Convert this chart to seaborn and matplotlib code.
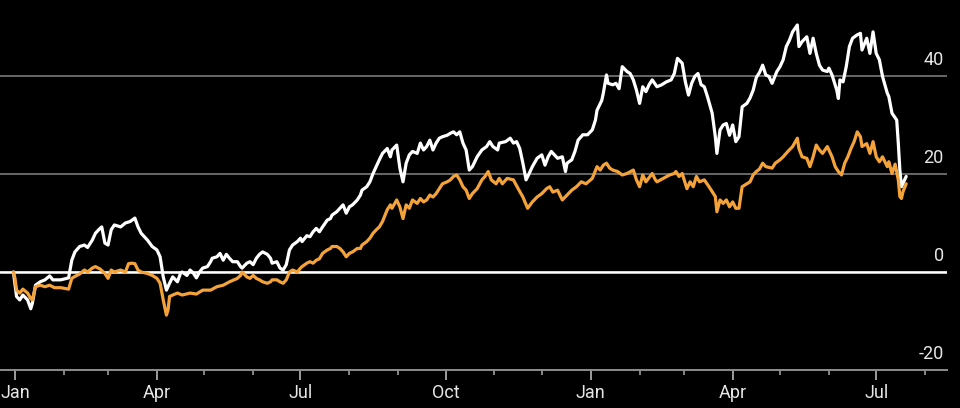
import pandas as pd
import seaborn as sns
import matplotlib.pyplot as plt
import matplotlib.dates as mdates
from matplotlib.transforms import ScaledTranslation

# days since 2018-01-01 and % change
white_days = [-1, 1, 3, 5, 8, 10, 11, 13, 16, 19, 22, 24, 29, 34, 36, 38, 41, 44, 46, 49, 51, 53, 55, 57, 59,
              61, 63, 67, 70, 73, 76, 78, 80, 84, 87, 90, 92, 94, 96, 98, 100, 103, 105, 106, 109, 111, 113,
              115, 117, 119, 122, 124, 125, 128, 130, 132, 134, 136, 138, 141, 143, 144, 147, 149, 151, 153,
              155, 157, 160, 162, 163, 166, 168, 170, 172, 174, 176, 179, 181, 182, 185, 187, 189, 191, 193,
              195, 198, 200, 201, 204, 206, 208, 210, 212, 214, 217, 219, 220, 223, 225, 227, 229, 231, 233,
              236, 238, 239, 242, 244, 246, 248, 250, 252, 255, 257, 259, 261, 263, 265, 267, 269, 271, 274,
              276, 278, 280, 282, 284, 286, 288, 290, 293, 296, 299, 301, 303, 306, 307, 311, 314, 316, 318,
              320, 322, 324, 326, 328, 331, 334, 336, 338, 340, 342, 344, 347, 349, 350, 353, 355, 357, 360,
              363, 366, 368, 369, 372, 373, 375, 376, 379, 381, 383, 385, 388, 390, 392, 394, 396, 398, 400,
              402, 404, 407, 410, 413, 416, 418, 420, 423, 425, 427, 429, 431, 433, 435, 437, 439, 442, 444,
              445, 447, 449, 451, 453, 455, 457, 459, 461, 464, 466, 468, 470, 472, 474, 476, 478, 480, 483,
              485, 487, 489, 491, 493, 496, 497, 499, 502, 504, 506, 508, 510, 512, 515, 516, 518, 521, 522,
              523, 525, 527, 529, 531, 534, 536, 537, 540, 542, 544, 546, 548, 550, 553, 554, 556, 559, 560,
              561, 562, 564, 565]
white_vals = [0, -5, -5.7, -4.7, -5.7, -7.5, -6.4, -2.7, -2, -1.6, -0.8, -1.6, -1.6, -1.2, 2.4, 4.1, 5.2, 5.5,
              5, 6.5, 7.9, 8.6, 9.2, 5.9, 5.5, 8.6, 9.6, 9.2, 10, 10.3, 11, 9.2, 7.9, 6.5, 5.2, 4.5, 3.1, -1,
              -3.7, -2.3, -1, -2, -0.2, 0, -0.7, 0.4, -0.2, -1.2, 0, 0.8, 1.1, 2.1, 2.8, 3.1, 3.8, 2.4, 3.6,
              2.8, 2.1, 2.1, 1.1, 0.8, 1.8, 2.1, 1.5, 2.8, 3.6, 4.1, 3.6, 2.8, 1.8, 2.1, 0.8, 0.4, 1.5, 4.5,
              5.5, 6.2, 6.9, 6.2, 7.4, 7.2, 8.2, 8.9, 8.2, 9.2, 10.6, 10.9, 11.6, 12.3, 13, 13.7, 12, 13.3,
              13.7, 14.7, 15.7, 16.7, 17.4, 18.4, 20.1, 21.5, 22.9, 24.2, 25.2, 23.5, 24.9, 25.9, 21.2, 18.4,
              22.2, 23.9, 24.6, 24.2, 26.3, 24.9, 25.6, 26.9, 24.9, 26.3, 27.3, 27.6, 27.9, 28.3, 28.6, 28,
              28.6, 26.3, 24.9, 20.8, 21.5, 23.5, 24.9, 25.6, 26.6, 25.6, 24.9, 26.3, 26.6, 27.3, 26.3, 26.6,
              25.2, 22.2, 18.8, 20.1, 21.5, 23.2, 23.9, 21.8, 23.5, 24.6, 23.9, 23.2, 23.5, 20.5, 22.2, 22.9,
              24.6, 26.9, 28, 28, 29, 31, 33, 35, 36.5, 40.2, 38.5, 38.2, 38.5, 37.4, 41.9, 40.9, 40.5, 39.2,
              37.1, 34.4, 37.8, 36.8, 38.2, 39.2, 37.8, 38.2, 38.8, 39.2, 40.5, 43.6, 42.6, 38.8, 36.1, 38.5,
              39.9, 40.5, 38.2, 37.8, 35.8, 32.4, 27.6, 24.2, 29, 30, 30.3, 27.9, 30, 26.6, 27.6, 33.7, 34.4,
              35.5, 37.1, 39.7, 40.7, 42.2, 40.2, 39.9, 38.5, 40.9, 41.9, 43.3, 46, 47.3, 49, 50.4, 46, 47,
              48, 44.6, 47.7, 44.6, 42.2, 41.2, 40.9, 41.6, 40.2, 37.1, 35.4, 39.2, 38.8, 41.9, 46, 47.7,
              48.4, 48.7, 45.3, 47.7, 44.6, 49, 44.6, 43.3, 39.9, 36.5, 35.8, 32.4, 31, 26.3, 20.8, 17.4,
              18.8, 19.5]

orange_days = [-1, 0, 1, 3, 5, 8, 10, 11, 13, 16, 19, 22, 25, 29, 34, 36, 38, 41, 44, 46, 49, 51, 54, 57, 59,
               61, 63, 67, 70, 72, 74, 76, 78, 80, 84, 87, 90, 92, 94, 96, 97, 98, 100, 103, 106, 111, 115,
               119, 124, 128, 132, 136, 141, 143, 144, 147, 149, 151, 153, 155, 157, 160, 162, 163, 166, 168,
               170, 172, 174, 176, 179, 181, 182, 185, 187, 189, 191, 193, 195, 198, 200, 201, 204, 206, 208,
               210, 212, 214, 217, 219, 220, 223, 225, 227, 229, 231, 233, 236, 238, 239, 242, 244, 246, 248,
               250, 252, 255, 257, 259, 261, 263, 265, 267, 269, 271, 274, 276, 278, 280, 282, 284, 286, 288,
               290, 293, 296, 298, 300, 302, 305, 307, 309, 312, 316, 319, 322, 325, 328, 331, 334, 337, 339,
               341, 344, 347, 350, 353, 356, 359, 362, 366, 369, 371, 373, 375, 377, 379, 382, 385, 388, 392,
               394, 396, 398, 400, 404, 406, 407, 411, 415, 418, 419, 421, 423, 426, 428, 430, 432, 434, 437,
               440, 444, 445, 447, 449, 451, 453, 455, 457, 459, 461, 464, 466, 468, 470, 472, 474, 476, 480,
               482, 485, 487, 490, 493, 496, 497, 499, 502, 504, 506, 508, 510, 512, 515, 518, 520, 522, 524,
               526, 528, 530, 532, 534, 536, 537, 540, 542, 544, 546, 548, 550, 553, 554, 556, 558, 560, 561,
               562, 563, 565]
orange_vals = [0, -1.3, -3.7, -4.3, -3.5, -4.3, -5.4, -5.7, -3, -2.7, -3, -2.7, -3.2, -3.2, -3.5, -1.3, -0.9,
               -0.4, 0.4, 0, 0.8, 1.1, 0.6, -0.3, -1.3, 0.4, 0, 0.4, 0, 1.7, 1.8, 1.7, 0.4, 0, -0.3, -0.7,
               -1.3, -2.3, -5.7, -8.8, -7.8, -5, -4.7, -4.3, -4.7, -4.3, -4.5, -3.7, -3.7, -3, -2.7, -2, -1.3,
               -0.7, 0, -1, -1.3, -0.7, -1.3, -1.6, -2, -2.3, -2, -1.6, -1.6, -2, -2.3, -1.6, 0, 0.4, 0, 0.8,
               1.1, 1.8, 2.1, 1.8, 2.4, 2.7, 3.8, 4.5, 4.8, 5.2, 5.2, 4.8, 4.1, 3.1, 3.8, 4.1, 4.8, 4.8, 5.5,
               6.2, 6.9, 7.9, 8.6, 9.2, 10.3, 12.7, 13.7, 13, 14.7, 13.3, 10.9, 13.7, 13, 14.7, 14, 15, 14.3,
               14.7, 15.7, 15.3, 16, 17, 18, 18.4, 18.8, 19.5, 19.8, 18.8, 17.4, 16.7, 15, 16, 17, 18.8, 19.5,
               20.5, 18.8, 18, 19.1, 18, 19.1, 18.8, 17, 15.3, 13, 14.3, 15.3, 16, 17, 17.4, 16.3, 16.7, 14.7,
               15.7, 16.7, 17.4, 18.4, 18, 19.1, 21.5, 20.8, 21.8, 22.2, 21.2, 20.8, 20.5, 19.8, 20.1, 20.8,
               18.8, 17.4, 19.8, 18.4, 20.1, 18.8, 18.4, 19.1, 19.8, 20.1, 20.5, 19.5, 20.1, 17, 18.4, 17.4,
               19.5, 18.4, 18.8, 17.4, 15.4, 12.3, 14.7, 14, 14.7, 13.3, 14.3, 13, 13, 17.4, 18, 18.4, 19.8,
               20.5, 21, 22.2, 21.5, 21.2, 22.2, 22.9, 23.5, 24.6, 25.6, 27.3, 25.2, 23.5, 23.2, 21.5, 23.5,
               25.9, 24.9, 24.2, 25.6, 23.5, 21.5, 20.5, 19.8, 22.2, 23.5, 25.2, 26.6, 28.6, 27.6, 25.6, 26.2,
               24.2, 26.6, 23.5, 22.5, 23.5, 21.5, 22.5, 20.1, 22, 18.8, 15.4, 15, 16.4, 18]

y_ticks = [-20, 0, 20, 40]

start = pd.Timestamp('2018-01-01')
df = pd.concat([
    pd.DataFrame({'date': start + pd.to_timedelta(white_days, unit='D'), 'pct': white_vals, 'series': 'white'}),
    pd.DataFrame({'date': start + pd.to_timedelta(orange_days, unit='D'), 'pct': orange_vals, 'series': 'orange'}),
])

sns.set_theme(style='ticks', rc={'axes.facecolor': 'black', 'figure.facecolor': 'black'})
plt.rcParams['font.family'] = ['Roboto', 'DejaVu Sans']
plt.rcParams['axes.unicode_minus'] = False

fig = plt.figure(figsize=(9.6, 4.08), dpi=100)
ax = fig.add_axes([0, 0.0931, 0.986, 0.9069])

ax.yaxis.grid(True, color='#707070', linewidth=1.3)
ax.axhline(0, color='white', linewidth=1.8, zorder=1.5)

sns.lineplot(data=df, x='date', y='pct', hue='series', palette={'white': 'white', 'orange': '#f4a23a'},
             linewidth=2.3, legend=False, ax=ax, zorder=3)

ax.set_ylim(-20, 55.5)
ax.set_xlim(start + pd.Timedelta(days=-9.5), start + pd.Timedelta(days=590.6))
ax.set_xlabel('')
ax.set_ylabel('')

# y labels sit inside the plot, right aligned, just above their gridline
ax.set_yticks(y_ticks)
ax.yaxis.tick_right()
ax.tick_params(axis='y', length=0, pad=0, labelsize=13, labelcolor='#e6e6e6')
offset = ScaledTranslation(-2 / 72, 5 / 72, fig.dpi_scale_trans)
for lab in ax.get_yticklabels():
    lab.set_horizontalalignment('right')
    lab.set_verticalalignment('bottom')
    lab.set_transform(lab.get_transform() + offset)

ax.xaxis.set_major_locator(mdates.MonthLocator(bymonth=[1, 4, 7, 10]))
ax.xaxis.set_major_formatter(mdates.DateFormatter('%b'))
ax.xaxis.set_minor_locator(mdates.MonthLocator())
ax.tick_params(axis='x', which='major', length=7, width=1.3, color='#aaaaaa', pad=3,
               labelsize=13, labelcolor='#e6e6e6')
ax.tick_params(axis='x', which='minor', length=3.5, width=1.1, color='#aaaaaa')

for side in ['top', 'left', 'right']:
    ax.spines[side].set_visible(False)
ax.spines['bottom'].set_color('#8c8c8c')
ax.spines['bottom'].set_linewidth(1.4)

fig.savefig('out.png', dpi=100, facecolor='black')
